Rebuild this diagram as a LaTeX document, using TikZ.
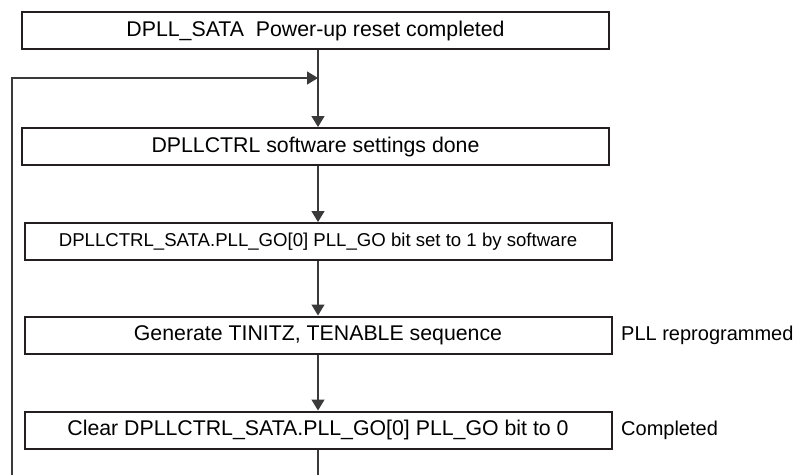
\documentclass[tikz,border=0pt]{standalone}
\usepackage{fontspec}
\setmainfont{Liberation Sans}
\usepackage{tikz}
\usetikzlibrary{arrows.meta,positioning,calc}
\definecolor{ink}{HTML}{231F20}
\definecolor{wiregray}{HTML}{3A3A3A}

\begin{document}
\begin{tikzpicture}[x=1pt,y=-1pt,
    stepbox/.style={draw=ink,line width=2pt,fill=white,inner sep=0pt,
      minimum width=587pt,minimum height=37pt,font=\fontsize{21.3}{24}\selectfont},
    flow/.style={draw=wiregray,line width=1.3pt,-{Triangle[length=11pt,width=13pt]}},
    wire/.style={draw=wiregray,line width=1.3pt},
    note/.style={anchor=west,inner sep=0pt,font=\fontsize{20}{22}\selectfont}]
  \useasboundingbox (0,0) rectangle (803,475);
  \def\spinex{318}

  % Process steps, top to bottom.
  \node[stepbox] (reset) at (315.5,30.5) {DPLL\_SATA\ \ Power-up reset completed};
  \node[stepbox] (swset) at (315.5,146.5) {DPLLCTRL software settings done};
  \node[stepbox,font=\fontsize{18.6}{21}\selectfont] (goset) at (318,241.5)
    {DPLLCTRL\_SATA.PLL\_GO[0] PLL\_GO bit set to 1 by software};
  \node[stepbox] (seq) at (318,335) {Generate TINITZ, TENABLE sequence};
  \node[stepbox] (clear) at (318,430) {Clear DPLLCTRL\_SATA.PLL\_GO[0] PLL\_GO bit to 0};

  % Side notes.
  \node[note] (reprog) at (621,335) {PLL reprogrammed};
  \node[note] (done) at (621,430) {Completed};

  % Loop-back points.
  \coordinate (join) at (\spinex,78);
  \coordinate (outend) at (\spinex,475);
  \coordinate (loopbot) at (12,475);
  \coordinate (looptop) at (12,78);

  % Connectors.
  \draw[wire] (reset.south -| join) -- (join);
  \draw[flow] (join) -- (swset.north -| join);
  \draw[flow] (swset.south -| join) -- (goset.north -| join);
  \draw[flow] (goset.south -| join) -- (seq.north -| join);
  \draw[flow] (seq.south -| join) -- (clear.north -| join);
  \draw[wire] (clear.south -| join) -- (outend);
  \draw[flow] (loopbot) -- (looptop) -- (join);
\end{tikzpicture}
\end{document}
